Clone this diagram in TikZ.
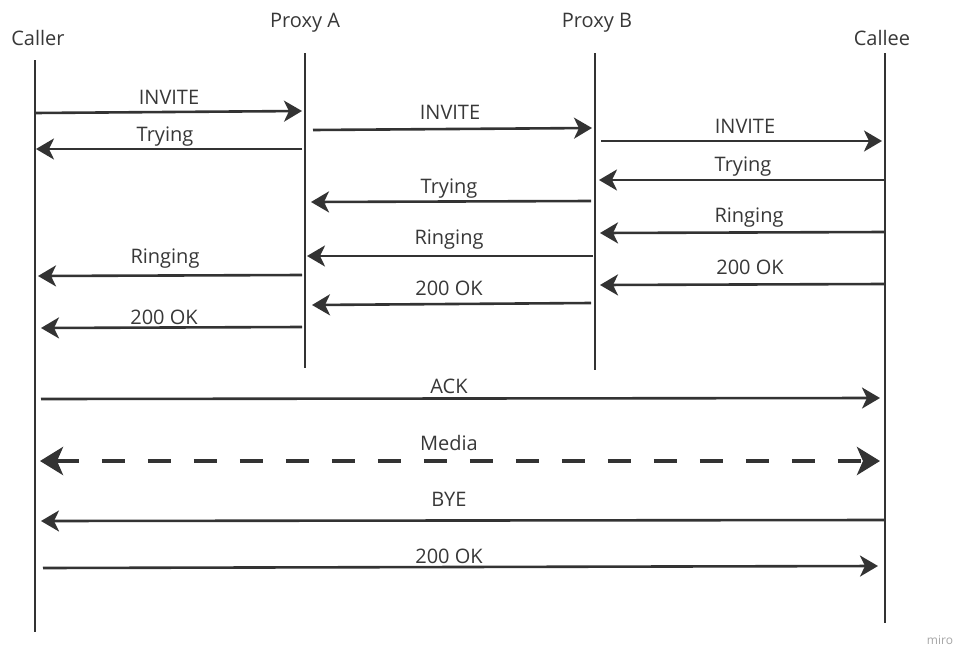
\documentclass[tikz,border=0pt]{standalone}
\usepackage{fontspec}
\setmainfont{Open Sans}
\usetikzlibrary{arrows.meta}
\definecolor{ink}{HTML}{333333}
\definecolor{txt}{HTML}{383838}
\tikzset{
  lifeline/.style={draw=ink, line width=2.8pt},
  msg/.style={draw=ink, line width=2.6pt, -{Stealth[length=18pt,width=21pt,inset=5pt]}},
  media/.style={draw=ink, line width=4.5pt, dash pattern=on 23pt off 23pt,
     {Stealth[length=23pt,width=28pt,inset=6pt]}-{Stealth[length=23pt,width=28pt,inset=6pt]}},
  lbl/.style={text=txt, font=\fontsize{20}{23}\selectfont, anchor=base, inner sep=0pt},
  actor/.style={text=txt, font=\fontsize{20}{23}\selectfont, anchor=base, inner sep=0pt},
}
\begin{document}
\begin{tikzpicture}[x=1pt,y=-1pt]
\useasboundingbox[fill=white] (0,0) rectangle (959,648);
% actors
\node[actor] (caller) at (38,45) {Caller};
\node[actor] (proxya) at (305,27) {Proxy A};
\node[actor] (proxyb) at (597,27) {Proxy B};
\node[actor] (callee) at (882,45) {Callee};
% lifelines
\coordinate (caT) at (35,60);  \coordinate (caB) at (35,632);
\coordinate (paT) at (305,53); \coordinate (paB) at (305,368);
\coordinate (pbT) at (595,53); \coordinate (pbB) at (595,370);
\coordinate (ceT) at (885,53); \coordinate (ceB) at (885,623);
\draw[lifeline] (caT) -- (caB);
\draw[lifeline] (paT) -- (paB);
\draw[lifeline] (pbT) -- (pbB);
\draw[lifeline] (ceT) -- (ceB);
% messages
\draw[msg] (35,113) -- (302,111);
\node[lbl] (m1) at (169,104) {INVITE};
\draw[msg] (302,149) -- (36,149);
\node[lbl] (m2) at (165,141) {Trying};
\draw[msg] (313,130) -- (592,128);
\node[lbl] (m3) at (450,119) {INVITE};
\draw[msg] (601,141) -- (882,141);
\node[lbl] (m4) at (745,133) {INVITE};
\draw[msg] (885,180) -- (599,180);
\node[lbl] (m5) at (743,171) {Trying};
\draw[msg] (591,201) -- (311,202);
\node[lbl] (m6) at (449,193) {Trying};
\draw[msg] (885,232) -- (600,233);
\node[lbl] (m7) at (749,222) {Ringing};
\draw[msg] (593,256) -- (307,256);
\node[lbl] (m8) at (449,244) {Ringing};
\draw[msg] (302,275) -- (38,276);
\node[lbl] (m9) at (165,263) {Ringing};
\draw[msg] (884,284) -- (600,285);
\node[lbl] (m10) at (750,274) {200 OK};
\draw[msg] (591,303) -- (312,305);
\node[lbl] (m11) at (449,295) {200 OK};
\draw[msg] (302,327) -- (41,328);
\node[lbl] (m12) at (164,324) {200 OK};
\draw[msg] (41,399) -- (880,398);
\node[lbl] (m13) at (449,393) {ACK};
\draw[media] (40,461) -- (880,461);
\node[lbl] (m14) at (449,450) {Media};
\draw[msg] (884,520) -- (41,521);
\node[lbl] (m15) at (449,506) {BYE};
\draw[msg] (43,568) -- (878,566);
\node[lbl] (m16) at (449,563) {200 OK};
% watermark
\node[text=black!35, font=\fontsize{12}{14}\selectfont, inner sep=0pt] (miro) at (940,640) {miro};
\end{tikzpicture}
\end{document}
